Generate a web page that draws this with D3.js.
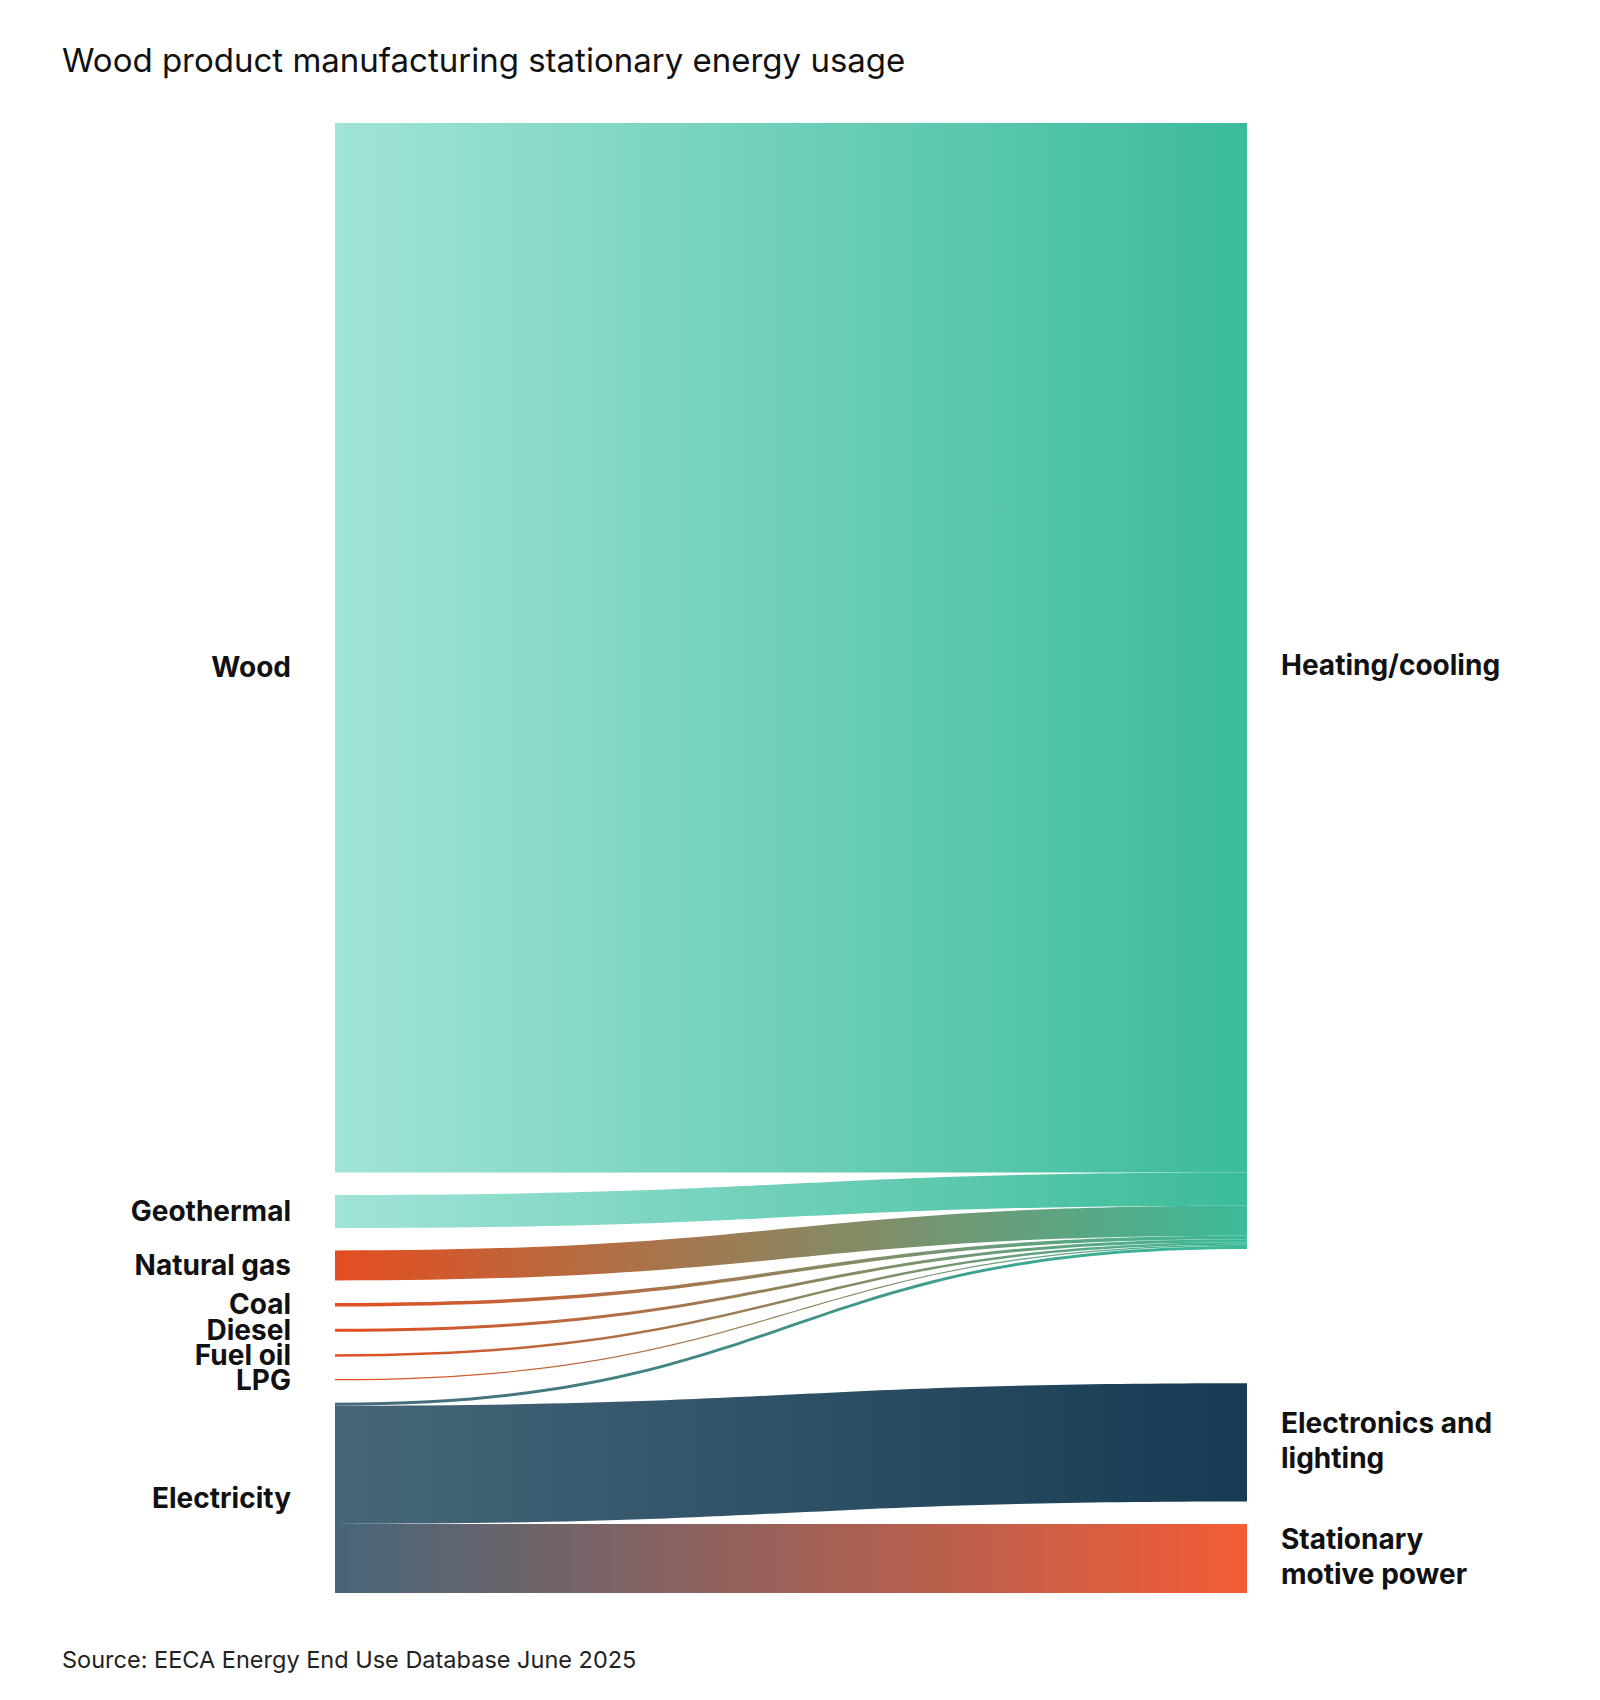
<!DOCTYPE html>
<html lang="en">
  <head>
    <meta charset="UTF-8" />
    <title>Wood product manufacturing stationary energy usage</title>
    <script src="https://cdn.jsdelivr.net/npm/d3@7"></script>
    <style>
      html,
      body {
        margin: 0;
        padding: 0;
        background: #fff;
      }
      svg text {
        font-family: Inter, 'Noto Sans', sans-serif;
        fill: #111;
      }
    </style>
  </head>
  <body>
    <script>
      // energy use, PJ
      const sources = ['Wood', 'Geothermal', 'Natural gas', 'Coal', 'Diesel', 'Fuel oil', 'LPG', 'Electricity'];
      const targets = ['Heating/cooling', 'Electronics and lighting', 'Stationary motive power'];
      const targetLabels = [['Heating/cooling'], ['Electronics and', 'lighting'], ['Stationary', 'motive power']];

      const flowSource = ['Wood', 'Geothermal', 'Natural gas', 'Coal', 'Diesel', 'Fuel oil', 'LPG', 'Electricity', 'Electricity', 'Electricity'];
      const flowTarget = ['Heating/cooling', 'Heating/cooling', 'Heating/cooling', 'Heating/cooling', 'Heating/cooling', 'Heating/cooling', 'Heating/cooling', 'Heating/cooling', 'Electronics and lighting', 'Stationary motive power'];
      const flowValue = [10.48, 0.33, 0.3, 0.035, 0.03, 0.025, 0.012, 0.03, 1.18, 0.69];

      const nodeColour = {
        Wood: '#a1e4d7',
        Geothermal: '#a1e4d7',
        'Natural gas': '#e44d20',
        Coal: '#e44d20',
        Diesel: '#e44d20',
        'Fuel oil': '#e44d20',
        LPG: '#e44d20',
        Electricity: '#476679',
        'Heating/cooling': '#3bbb9a',
        'Electronics and lighting': '#163b52',
        'Stationary motive power': '#f45c36',
      };

      const width = 1600,
        height = 1700;
      const chartLeft = 335,
        chartRight = 1247,
        chartTop = 123,
        chartBottom = 1593,
        padding = 22.4;

      const svg = d3.select('body').append('svg').attr('width', width).attr('height', height);
      const defs = svg.append('defs');

      const links = flowValue.map((v, i) => ({ source: flowSource[i], target: flowTarget[i], value: v }));

      const totalOf = name => d3.sum(links.filter(l => l.source === name || l.target === name), l => l.value);
      const leftTotal = d3.sum(sources, totalOf);

      const y = d3
        .scaleLinear()
        .domain([0, leftTotal])
        .range([0, chartBottom - chartTop - padding * (sources.length - 1)]);

      // left column stacked from the top
      const nodes = {};
      let cursor = chartTop;
      sources.forEach(name => {
        const h = y(totalOf(name));
        nodes[name] = { name, y0: cursor, y1: cursor + h };
        cursor += h + padding;
      });

      // right column: largest at the top, the rest stacked up from the bottom
      nodes[targets[0]] = { name: targets[0], y0: chartTop, y1: chartTop + y(totalOf(targets[0])) };
      cursor = chartBottom;
      targets
        .slice(1)
        .reverse()
        .forEach(name => {
          const h = y(totalOf(name));
          nodes[name] = { name, y0: cursor - h, y1: cursor };
          cursor -= h + padding;
        });

      Object.values(nodes).forEach(n => (n.labelY = (n.y0 + n.y1) / 2));
      // the two ends of the dominant flow share one label line
      const main = links[d3.maxIndex(links, l => l.value)];
      const shared = (nodes[main.source].labelY + nodes[main.target].labelY) / 2;
      nodes[main.source].labelY = nodes[main.target].labelY = shared;

      // stack link ends inside each node
      const outOffset = {},
        inOffset = {};
      links.forEach(l => {
        const s = nodes[l.source],
          t = nodes[l.target];
        const h = y(l.value);
        outOffset[l.source] = outOffset[l.source] || 0;
        inOffset[l.target] = inOffset[l.target] || 0;
        l.sy0 = s.y0 + outOffset[l.source];
        l.sy1 = l.sy0 + h;
        l.ty0 = t.y0 + inOffset[l.target];
        l.ty1 = l.ty0 + h;
        outOffset[l.source] += h;
        inOffset[l.target] += h;
      });

      const ribbon = l => {
        const xm = (chartLeft + chartRight) / 2;
        const p = d3.path();
        p.moveTo(chartLeft, l.sy0);
        p.bezierCurveTo(xm, l.sy0, xm, l.ty0, chartRight, l.ty0);
        p.lineTo(chartRight, l.ty1);
        p.bezierCurveTo(xm, l.ty1, xm, l.sy1, chartLeft, l.sy1);
        p.closePath();
        return p.toString();
      };

      const grad = defs
        .selectAll('linearGradient')
        .data(links)
        .join('linearGradient')
        .attr('id', (d, i) => 'g' + i)
        .attr('gradientUnits', 'userSpaceOnUse')
        .attr('x1', chartLeft)
        .attr('x2', chartRight)
        .attr('y1', 0)
        .attr('y2', 0);
      grad
        .append('stop')
        .attr('offset', 0)
        .attr('stop-color', d => nodeColour[d.source]);
      grad
        .append('stop')
        .attr('offset', 1)
        .attr('stop-color', d => nodeColour[d.target]);

      svg
        .append('g')
        .selectAll('path')
        .data(links)
        .join('path')
        .attr('d', ribbon)
        .attr('fill', (d, i) => `url(#g${i})`);

      // labels
      svg
        .append('g')
        .selectAll('text')
        .data(sources)
        .join('text')
        .attr('x', chartLeft - 44)
        .attr('y', d => nodes[d].labelY)
        .attr('dy', '0.35em')
        .attr('text-anchor', 'end')
        .style('font-size', '28px')
        .style('font-weight', 700)
        .text(d => d);

      const lineH = 35;
      svg
        .append('g')
        .selectAll('text')
        .data(targets)
        .join('text')
        .style('font-size', '28px')
        .style('font-weight', 700)
        .selectAll('tspan')
        .data((d, i) =>
          targetLabels[i].map((t, j, a) => ({
            t,
            y: nodes[d].labelY + (j - (a.length - 1) / 2) * lineH,
          })),
        )
        .join('tspan')
        .attr('x', chartRight + 34)
        .attr('y', d => d.y)
        .attr('dy', '0.3em')
        .text(d => d.t);

      svg
        .append('text')
        .attr('x', 62)
        .attr('y', 72)
        .style('font-size', '33px')
        .text('Wood product manufacturing stationary energy usage');

      svg
        .append('text')
        .attr('x', 62)
        .attr('y', 1668)
        .style('font-size', '23.5px')
        .style('fill', '#222')
        .text('Source: EECA Energy End Use Database June 2025');
    </script>
  </body>
</html>
